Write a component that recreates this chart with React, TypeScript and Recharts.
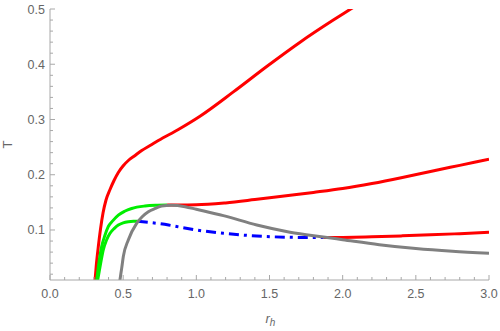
import { LineChart, Line, XAxis, YAxis } from "recharts"

// upper branch (red)
const redUpperR = [0.302, 0.3076, 0.3178, 0.3301, 0.3452, 0.3623, 0.3828, 0.4101, 0.4375, 0.4669, 0.499, 0.5352, 0.5742, 0.6268, 0.6836, 0.7403, 0.877, 1.025, 1.253, 1.481, 1.709, 1.936, 2.055, 2.12]
const redUpperT = [0.0, 0.0095, 0.0403, 0.0698, 0.1018, 0.1308, 0.1543, 0.1733, 0.1896, 0.2041, 0.2158, 0.2258, 0.2335, 0.2439, 0.2529, 0.262, 0.282, 0.306, 0.35, 0.396, 0.44, 0.48, 0.5, 0.511]

// middle branch: green small-r part, then red
const greenMidR = [0.314, 0.319, 0.335, 0.353, 0.375, 0.398, 0.43, 0.467, 0.51, 0.558, 0.649, 0.72, 0.8]
const greenMidT = [0.0, 0.0095, 0.042, 0.07, 0.09, 0.106, 0.117, 0.127, 0.134, 0.139, 0.1434, 0.1448, 0.1453]
const redMidR = [0.8, 1.0, 1.2, 1.4, 1.6, 1.8, 2.0, 2.2, 2.4, 2.6, 2.8, 3.0]
const redMidT = [0.1453, 0.1456, 0.149, 0.155, 0.1615, 0.168, 0.175, 0.184, 0.1945, 0.206, 0.217, 0.228]

// lower branch: green, unstable (blue dot-dashed), then red
const greenLowR = [0.319, 0.326, 0.345, 0.364, 0.385, 0.41, 0.44, 0.467, 0.5, 0.535, 0.57, 0.6]
const greenLowT = [0.0, 0.0095, 0.038, 0.064, 0.081, 0.094, 0.103, 0.109, 0.113, 0.115, 0.1158, 0.1157]
const blueLowR = [0.6, 0.7, 0.81, 0.91, 1.0, 1.185, 1.413, 1.64, 1.87]
const blueLowT = [0.1157, 0.113, 0.109, 0.104, 0.1, 0.094, 0.0891, 0.0868, 0.0862]
const redLowR = [1.87, 2.0, 2.2, 2.4, 2.6, 2.8, 3.0]
const redLowT = [0.0862, 0.0865, 0.0877, 0.0893, 0.0912, 0.0934, 0.0958]

// gray reference curve
const grayR = [0.473, 0.478, 0.49, 0.501, 0.535, 0.592, 0.63, 0.672, 0.72, 0.763, 0.83, 0.923, 1.0, 1.185, 1.413, 1.64, 1.868, 2.0, 2.25, 2.5, 2.75, 3.0]
const grayT = [0.0, 0.0095, 0.031, 0.052, 0.082, 0.112, 0.124, 0.133, 0.139, 0.1434, 0.1447, 0.1422, 0.1375, 0.126, 0.109, 0.096, 0.0873, 0.0825, 0.0735, 0.0665, 0.0615, 0.0578]

const xTicks = Array.from({ length: 31 }, (_, i) => i / 10)
const yTicks = Array.from({ length: 25 }, (_, i) => (i + 1) / 50)
const xLabels = ["0.0", "0.5", "1.0", "1.5", "2.0", "2.5", "3.0"]
const yLabels = ["0.1", "0.2", "0.3", "0.4", "0.5"]

const toPoints = (r: number[], t: number[]) => r.map((v, i) => ({ r: v, t: t[i] }))

const FRAME = "#a8a8a8"
const TEXT = "#666666"
const FONT = "'Liberation Sans', Arial, sans-serif"

function xLabel(v: number) {
  return xLabels.find(l => Math.abs(parseFloat(l) - v) < 1e-6)
}
function yLabel(v: number) {
  return yLabels.find(l => Math.abs(parseFloat(l) - v) < 1e-6)
}

function BottomTick({ x, y, payload }: any) {
  const label = xLabel(payload.value)
  return (
    <g>
      <line x1={x} x2={x} y1={y} y2={y - (label ? 5 : 3)} stroke={FRAME} />
      {label && (
        <text x={x} y={y + 18} textAnchor="middle" fill={TEXT} fontSize={12.5} fontFamily={FONT}>
          {label}
        </text>
      )}
    </g>
  )
}

function TopTick({ x, y, payload }: any) {
  const major = xLabel(payload.value)
  return <line x1={x} x2={x} y1={y} y2={y + (major ? 5 : 3)} stroke={FRAME} />
}

function LeftTick({ x, y, payload }: any) {
  const label = yLabel(payload.value)
  return (
    <g>
      <line x1={x} x2={x + (label ? 5 : 3)} y1={y} y2={y} stroke={FRAME} />
      {label && (
        <text x={x - 5} y={y + 4.5} textAnchor="end" fill={TEXT} fontSize={12.5} fontFamily={FONT}>
          {label}
        </text>
      )}
    </g>
  )
}

function RightTick({ x, y, payload }: any) {
  const major = yLabel(payload.value)
  return <line x1={x} x2={x - (major ? 5 : 3)} y1={y} y2={y} stroke={FRAME} />
}

function RLabel({ viewBox }: any) {
  const cx = viewBox.x + viewBox.width / 2
  return (
    <text x={cx - 4} y={viewBox.y + 43} fill={TEXT} fontSize={13} fontFamily={FONT} fontStyle="italic">
      r
      <tspan fontSize={10} dy={3}>h</tspan>
    </text>
  )
}

function TLabel({ viewBox }: any) {
  const cy = viewBox.y + viewBox.height / 2
  return (
    <text x={12} y={cy} transform={`rotate(-90 12 ${cy})`} textAnchor="middle" fill={TEXT} fontSize={13} fontFamily={FONT}>
      T
    </text>
  )
}

export default function App() {
  const lineProps = { dataKey: "t", dot: false, activeDot: false, isAnimationActive: false, type: "monotone" as const, strokeWidth: 3 }
  return (
    <div style={{ position: "absolute", left: 0, top: 0, background: "#fff" }}>
      <LineChart width={500} height={331} margin={{ top: 9, right: 11, bottom: 21, left: 10 }}>
        <XAxis
          dataKey="r"
          type="number"
          domain={[0, 3]}
          allowDataOverflow
          ticks={xTicks}
          interval={0}
          height={30}
          tickSize={0}
          tickMargin={0}
          tickLine={false}
          axisLine={{ stroke: FRAME }}
          tick={<BottomTick />}
          label={<RLabel />}
        />
        <XAxis
          xAxisId="top"
          orientation="top"
          dataKey="r"
          type="number"
          domain={[0, 3]}
          allowDataOverflow
          ticks={xTicks}
          interval={0}
          height={0}
          tickSize={0}
          tickMargin={0}
          tickLine={false}
          axisLine={{ stroke: FRAME }}
          tick={<TopTick />}
        />
        <YAxis
          type="number"
          domain={[0.0095, 0.5]}
          allowDataOverflow
          ticks={yTicks}
          interval={0}
          width={40}
          tickSize={0}
          tickMargin={0}
          tickLine={false}
          axisLine={{ stroke: FRAME }}
          tick={<LeftTick />}
          label={<TLabel />}
        />
        <YAxis
          yAxisId="right"
          orientation="right"
          type="number"
          domain={[0.0095, 0.5]}
          allowDataOverflow
          ticks={yTicks}
          interval={0}
          width={0}
          tickSize={0}
          tickMargin={0}
          tickLine={false}
          axisLine={{ stroke: FRAME }}
          tick={<RightTick />}
        />
        <Line {...lineProps} data={toPoints(redUpperR, redUpperT)} stroke="#ff0000" />
        <Line {...lineProps} data={toPoints(greenMidR, greenMidT)} stroke="#00ee00" />
        <Line {...lineProps} data={toPoints(redMidR, redMidT)} stroke="#ff0000" />
        <Line {...lineProps} data={toPoints(greenLowR, greenLowT)} stroke="#00ee00" />
        <Line {...lineProps} data={toPoints(redLowR, redLowT)} stroke="#ff0000" />
        <Line {...lineProps} data={toPoints(blueLowR, blueLowT)} stroke="#0000ff" strokeDasharray="10 5 3 5" />
        <Line {...lineProps} data={toPoints(grayR, grayT)} stroke="#808080" />
      </LineChart>
    </div>
  )
}
